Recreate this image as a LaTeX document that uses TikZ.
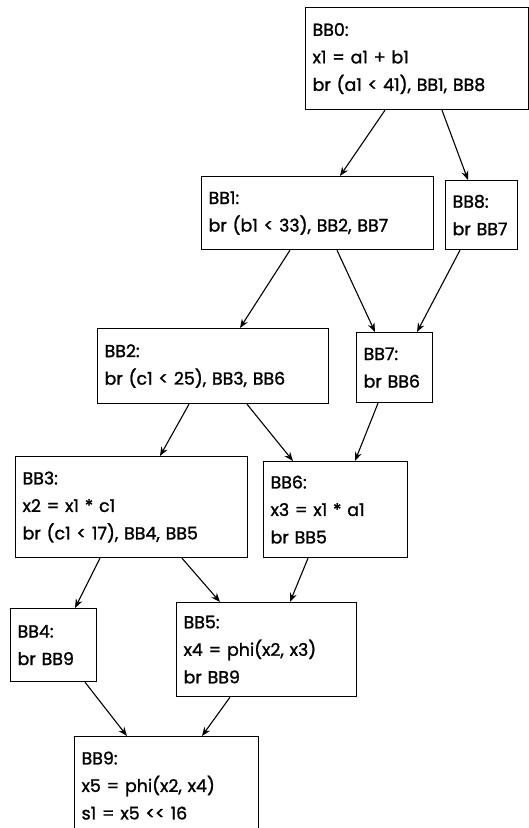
\documentclass[tikz,border=0pt]{standalone}
\usepackage{fontspec}
\setmainfont{Poppins}
\newfontfamily\bbfont{Poppins}[FakeBold=1.3]
\usetikzlibrary{arrows.meta, positioning, calc}

\begin{document}
\begin{tikzpicture}[x=1pt, y=-1pt,
    bb/.style={draw, line width=1.2pt, anchor=north west, align=left,
        inner xsep=7pt, inner ysep=0pt,
        font=\bbfont\fontsize{17.4}{27.5}\selectfont},
    flow/.style={line width=1.1pt, -{Stealth[length=9pt, width=7pt]}}]

\clip (0,0) rectangle (529,828);

% Helper macro for one CFG edge
% Arguments: source, x-offset on its bottom, target, x-offset on its top
\def\cfgedge#1#2#3#4{
    \draw[flow] ([xshift=#2pt]#1.south west) -- ([xshift=#4pt]#3.north west);
}

% Basic blocks
\node[bb, text width=209pt, minimum height=102pt] (bb0) at (305,7)
    {BB0:\\x1 = a1 + b1\\br (a1 < 41), BB1, BB8};
\node[bb, text width=218pt, minimum height=73pt] (bb1) at (201,176)
    {BB1:\\br (b1 < 33), BB2, BB7};
\node[bb, text width=58pt, minimum height=69pt] (bb8) at (445,180)
    {BB8:\\br BB7};
\node[bb, text width=217pt, minimum height=75pt] (bb2) at (97,328)
    {BB2:\\br (c1 < 25), BB3, BB6};
\node[bb, text width=62pt, minimum height=70pt] (bb7) at (356,332)
    {BB7:\\br BB6};
\node[bb, text width=218pt, minimum height=101pt] (bb3) at (15,456)
    {BB3:\\x2 = x1 * c1\\br (c1 < 17), BB4, BB5};
\node[bb, text width=130pt, minimum height=96pt] (bb6) at (263,461)
    {BB6:\\x3 = x1 * a1\\br BB5};
\node[bb, text width=72pt, minimum height=73pt] (bb4) at (10,608)
    {BB4:\\br BB9};
\node[bb, text width=166pt, minimum height=94pt] (bb5) at (176,602)
    {BB5:\\x4 = phi(x2, x3)\\br BB9};
\node[bb, text width=170pt, minimum height=98pt] (bb9) at (74,736)
    {BB9:\\x5 = phi(x2, x4)\\s1 = x5 <{}< 16};

% Edges
\cfgedge{bb0}{80}{bb1}{139}
\cfgedge{bb0}{137}{bb8}{23}
\cfgedge{bb1}{89}{bb2}{143}
\cfgedge{bb1}{136}{bb7}{19}
\cfgedge{bb8}{15}{bb7}{61}
\cfgedge{bb2}{92}{bb3}{145}
\cfgedge{bb2}{150}{bb6}{30}
\cfgedge{bb7}{22}{bb6}{92}
\cfgedge{bb3}{85}{bb4}{65}
\cfgedge{bb3}{167}{bb5}{44}
\cfgedge{bb6}{45}{bb5}{114}
\cfgedge{bb4}{75}{bb9}{53}
\cfgedge{bb5}{54}{bb9}{128}

\end{tikzpicture}
\end{document}
